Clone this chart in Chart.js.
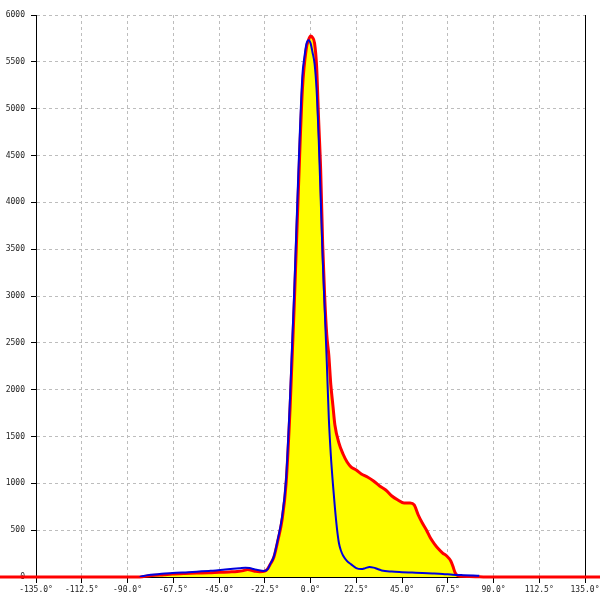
<!DOCTYPE html>
<html><head><meta charset="utf-8">
<script src="https://cdn.jsdelivr.net/npm/chart.js@4/dist/chart.umd.min.js"></script>
<style>html,body{margin:0;padding:0;background:#fff}canvas{display:block}</style>
</head><body>
<canvas id="c" width="600" height="600"></canvas>
<script>
// Angles in degrees, values as counts
const redAngles = [-180,-85,-82,-78,-72,-68,-62,-56,-50,-45,-40,-36,-33,-31,-29,-27,-25,-22.5,-21,-20,-18,-16,-14,-12,-10,-8,-6,-4,-2,-1,0,1,2,3,4,5,6,7,8,9,10,11,12,14,16,18,20,22.5,25,28,31,34,37,40,43,46,49,51,53,55,57,59,61,63,65,67,69,70,71,72,74,78,82,85,180];
const redValues = [0,0,5,15,25,32,38,42,45,50,54,58,68,80,72,60,55,62,90,128,213,395,608,1000,1820,2900,4110,5200,5650,5730,5775,5760,5700,5455,4880,4345,3545,2980,2585,2370,2050,1836,1623,1430,1313,1228,1174,1142,1100,1068,1025,971,929,865,822,790,790,769,662,576,502,416,352,299,256,224,171,117,53,21,8,6,3,0,0];

const blueAngles = [-84,-80,-75,-68,-60,-56,-50,-48,-42,-35,-32,-30,-28,-26,-23,-21,-20,-18,-16,-14,-12,-10,-8,-6,-4,-3,-2,-1,0,1,2,3,4,5,6,7,8,9,10,11,12,13,14,15,16,18,20,22.5,25,27,29,31,33,35,40,45,50,55,60,65,70,75,80,83];
const blueValues = [0,20,30,43,52,57,65,67,80,93,99,95,85,75,65,85,130,220,410,640,1050,1950,3050,4300,5350,5550,5690,5730,5700,5600,5480,5200,4700,4050,3400,2850,2300,1700,1300,1000,740,520,360,280,230,170,135,95,85,95,107,100,85,70,58,52,47,42,38,33,25,20,16,14];

const xMin = -135, xMax = 135, xStep = 22.5;
const yMin = 0, yMax = 6000, yStep = 500;

const frame = {
  id: 'frame',
  beforeDatasetsDraw(chart) {
    const {ctx, chartArea: a} = chart;
    ctx.save();
    ctx.strokeStyle = '#000';
    ctx.lineWidth = 1;
    ctx.beginPath();
    ctx.moveTo(Math.round(a.right) + 0.5, a.top);
    ctx.lineTo(Math.round(a.right) + 0.5, a.bottom);
    ctx.stroke();
    ctx.restore();
  }
};

const tickFont = {family: 'DejaVu Sans Mono', size: 8};

new Chart(document.getElementById('c'), {
  type: 'line',
  data: {
    datasets: [
      {
        data: blueAngles.map((x, i) => ({x, y: blueValues[i]})),
        borderColor: '#0000dd',
        borderWidth: 2,
        pointRadius: 0,
        fill: false,
        cubicInterpolationMode: 'monotone',
        order: 0
      },
      {
        data: redAngles.map((x, i) => ({x, y: redValues[i]})),
        borderColor: '#ff0000',
        backgroundColor: '#ffff00',
        borderWidth: 3,
        pointRadius: 0,
        fill: 'origin',
        clip: false,
        cubicInterpolationMode: 'monotone',
        order: 1
      }
    ]
  },
  options: {
    responsive: false,
    animation: false,
    layout: {padding: {top: 15, right: 15, left: 0, bottom: 0}},
    plugins: {legend: {display: false}, tooltip: {enabled: false}},
    scales: {
      x: {
        type: 'linear',
        min: xMin, max: xMax,
        ticks: {
          stepSize: xStep, autoSkip: false, maxRotation: 0, padding: 2,
          font: tickFont, color: '#222',
          callback: v => v.toFixed(1) + '\u00b0'
        },
        grid: {color: '#bdbdbd', lineWidth: 1, tickColor: '#000', tickLength: 6, tickBorderDash: []},
        border: {color: '#000', width: 1, dash: [3, 3]},
        afterFit(s) { s.height = 23; s.paddingLeft = 0; s.paddingRight = 0; }
      },
      y: {
        min: yMin, max: yMax,
        ticks: {stepSize: yStep, padding: 6, font: tickFont, color: '#222', callback: v => String(v)},
        grid: {color: '#bdbdbd', lineWidth: 1, tickColor: '#000', tickLength: 5, tickBorderDash: []},
        border: {color: '#000', width: 1, dash: [3, 3]},
        afterFit(s) { s.width = 36; s.paddingTop = 0; s.paddingBottom = 0; }
      }
    }
  },
  plugins: [frame]
});
</script>
</body></html>
